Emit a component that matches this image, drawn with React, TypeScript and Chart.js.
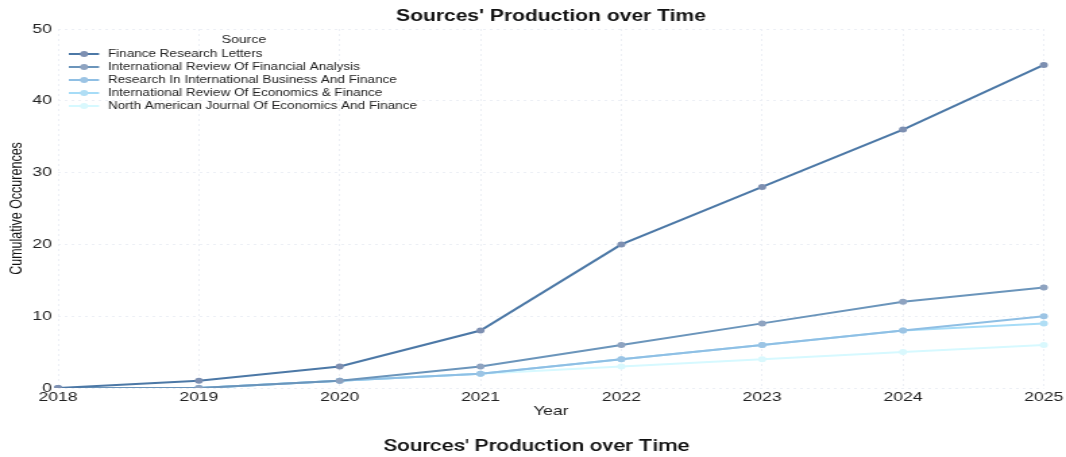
import React, { useEffect, useRef } from 'react';
import { Chart, registerables } from 'chart.js';

Chart.register(...registerables);

const years = ['2018', '2019', '2020', '2021', '2022', '2023', '2024', '2025'];
const sourceNames = [
  'Finance Research Letters',
  'International Review Of Financial Analysis',
  'Research In International Business And Finance',
  'International Review Of Economics & Finance',
  'North American Journal Of Economics And Finance',
];
const frl = [0, 1, 3, 8, 20, 28, 36, 45];
const irfa = [0, 0, 1, 3, 6, 9, 12, 14];
const ribaf = [0, 0, 1, 2, 4, 6, 8, 10];
const iref = [0, 0, 1, 2, 4, 6, 8, 9];
const najef = [0, 0, 1, 2, 3, 4, 5, 6];
const seriesValues = [frl, irfa, ribaf, iref, najef];
const lineColors = ['#4c78a6', '#6b95bb', '#8fbfe4', '#a6dcf7', '#d6f9ff'];
const pointColors = ['#7d8fb1', '#8ea3c0', '#9cc4e4', '#b0def5', '#d9f8fd'];
const chartTitle = "Sources' Production over Time";
const yTitle = 'Cumulative Occurences';
const xTitle = 'Year';
const legendTitle = 'Source';

const W = 790;
const H = 457;
const SX = 1066 / W;
const SANS = '"Liberation Sans", Arial, Helvetica, sans-serif';

const overlayPlugin = {
  id: 'overlayTexts',
  afterDraw(chart: any) {
    const ctx = chart.ctx;
    const ca = chart.chartArea;
    ctx.save();
    // top title
    ctx.fillStyle = '#111';
    ctx.textAlign = 'center';
    ctx.textBaseline = 'middle';
    ctx.font = 'bold 15.6px ' + SANS;
    ctx.fillText(chartTitle, (ca.left + ca.right) / 2, 17);
    // bottom title
    ctx.font = '500 16.6px Roboto, "Noto Sans", sans-serif';
    ctx.fillText(chartTitle, 397.6, 447);
    // legend
    ctx.font = '10.5px ' + SANS;
    ctx.fillStyle = '#222';
    ctx.fillText(legendTitle, 180.8, 40.5);
    ctx.font = '10px ' + SANS;
    ctx.textAlign = 'left';
    chart.data.datasets.forEach((ds: any, i: number) => {
      const y = 54 + i * 13;
      ctx.strokeStyle = ds.borderColor;
      ctx.lineWidth = 2;
      ctx.beginPath();
      ctx.moveTo(51, y);
      ctx.lineTo(73.4, y);
      ctx.stroke();
      ctx.fillStyle = ds.pointBackgroundColor;
      ctx.beginPath();
      ctx.arc(62.3, y, 3, 0, Math.PI * 2);
      ctx.fill();
      ctx.fillStyle = '#222';
      ctx.fillText(ds.label, 80, y + 0.5);
    });
    ctx.restore();
  },
};

export default function App() {
  const ref = useRef<HTMLCanvasElement | null>(null);
  useEffect(() => {
    if (!ref.current) return;
    const chart = new Chart(ref.current, {
      type: 'line',
      data: {
        labels: years,
        datasets: seriesValues.map((vals, i) => ({
          label: sourceNames[i],
          data: vals,
          borderColor: lineColors[i],
          backgroundColor: pointColors[i],
          pointBackgroundColor: pointColors[i],
          pointBorderColor: pointColors[i],
          pointBorderWidth: 0,
          pointRadius: 3,
          borderWidth: 2,
          tension: 0,
          fill: false,
        })),
      },
      options: {
        responsive: false,
        animation: false,
        devicePixelRatio: 1,
        layout: { padding: { top: 29, right: 16.3, bottom: 38, left: 0 } },
        plugins: {
          legend: { display: false },
          title: { display: false },
          tooltip: { enabled: false },
        },
        scales: {
          x: {
            type: 'category',
            offset: false,
            grid: { color: '#eceff5', drawTicks: false, lineWidth: 1 },
            border: { display: false, dash: [2, 3] },
            ticks: {
              color: '#222',
              padding: 2,
              maxRotation: 0,
              autoSkip: false,
              font: { family: SANS, size: 13 },
            },
            title: {
              display: true,
              text: xTitle,
              color: '#222',
              padding: { top: 0, bottom: 0 },
              font: { family: SANS, size: 13 },
            },
            afterFit: (scale: any) => {
              scale.height = 31;
            },
          },
          y: {
            min: 0,
            max: 50,
            grid: { color: '#eceff5', drawTicks: false, lineWidth: 1 },
            border: { display: false, dash: [2, 3] },
            ticks: {
              stepSize: 10,
              color: '#222',
              padding: 4.5,
              font: { family: SANS, size: 13 },
            },
            title: {
              display: true,
              text: yTitle,
              color: '#111',
              padding: { top: 5, bottom: 0 },
              font: { family: SANS, size: 12.5 },
            },
            afterFit: (scale: any) => {
              scale.width = 43;
            },
          },
        },
      },
      plugins: [overlayPlugin],
    });
    return () => chart.destroy();
  }, []);

  return (
    <div style={{ position: 'absolute', left: 0, top: 0, width: 1066, height: H, overflow: 'hidden', background: '#fff' }}>
      <div style={{ width: W, height: H, transform: `scaleX(${SX})`, transformOrigin: '0 0' }}>
        <canvas ref={ref} width={W} height={H} style={{ width: W, height: H, display: 'block' }} />
      </div>
    </div>
  );
}
